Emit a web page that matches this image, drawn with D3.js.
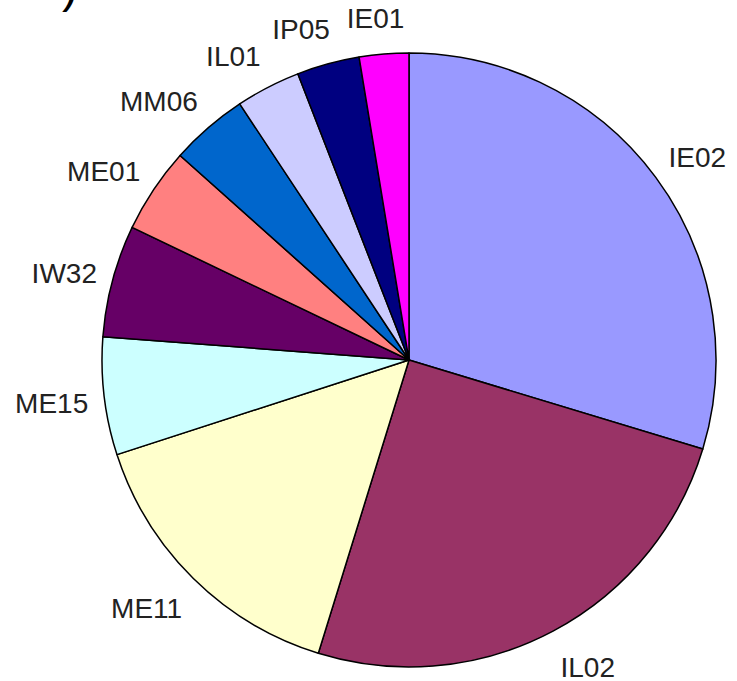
<!DOCTYPE html>
<html>
<head>
<meta charset="utf-8">
<script src="https://cdn.jsdelivr.net/npm/d3@7"></script>
<style>
  body { margin: 0; background: #fff; }
  svg { display: block; }
</style>
</head>
<body>
<div class="container"></div>
<script>
const categories = ['IE02', 'IL02', 'ME11', 'ME15', 'IW32', 'ME01', 'MM06', 'IL01', 'IP05', 'IE01']
const values = [29.7, 25.1, 15.25, 6.2, 5.9, 4.5, 4.1, 3.4, 3.3, 2.6]
const colors = ['#9999ff', '#993366', '#ffffcc', '#ccffff', '#660066', '#ff8080', '#0066cc', '#ccccff', '#000080', '#ff00ff']

const width = 737
const height = 681
const cx = 409
const cy = 360
const radius = 307
const labelRadius = 323

const svg = d3
  .select('.container')
  .append('svg')
  .attr('width', width)
  .attr('height', height)

// clipped title remnant at the very top
svg
  .append('text')
  .attr('x', 62)
  .attr('y', 2)
  .attr('font-family', 'Liberation Sans, Arial, sans-serif')
  .attr('font-size', '48px')
  .attr('fill', '#000')
  .text(')')

const g = svg.append('g').attr('transform', `translate(${cx},${cy})`)

const data = categories.map((c, i) => ({ name: c, value: values[i], color: colors[i] }))

const pie = d3
  .pie()
  .sort(null)
  .value((d) => d.value)

const arc = d3.arc().innerRadius(0).outerRadius(radius)
const labelArc = d3.arc().innerRadius(labelRadius).outerRadius(labelRadius)

const arcs = pie(data)

g.selectAll('path')
  .data(arcs)
  .enter()
  .append('path')
  .attr('d', arc)
  .attr('fill', (d) => d.data.color)
  .attr('stroke', '#000')
  .attr('stroke-width', 1.5)
  .attr('stroke-linejoin', 'round')

const clamp = (v) => Math.max(-1, Math.min(1, v))

// labels sit outside the rim, the box pushed away from the pie
g.selectAll('text.label')
  .data(arcs)
  .enter()
  .append('text')
  .attr('class', 'label')
  .attr('dy', '0.36em')
  .attr('text-anchor', 'middle')
  .attr('font-family', 'Liberation Sans, Arial, sans-serif')
  .attr('font-size', '28px')
  .attr('fill', '#222')
  .text((d) => d.data.name)
  .attr('transform', function (d) {
    const mid = (d.startAngle + d.endAngle) / 2
    const p = labelArc.centroid({ startAngle: mid, endAngle: mid })
    const halfW = this.getComputedTextLength() / 2
    const x = p[0] + halfW * clamp(Math.sin(mid) * 3)
    const y = p[1] + 2 - 22 * Math.cos(mid)
    return `translate(${x},${y})`
  })
</script>
</body>
</html>
